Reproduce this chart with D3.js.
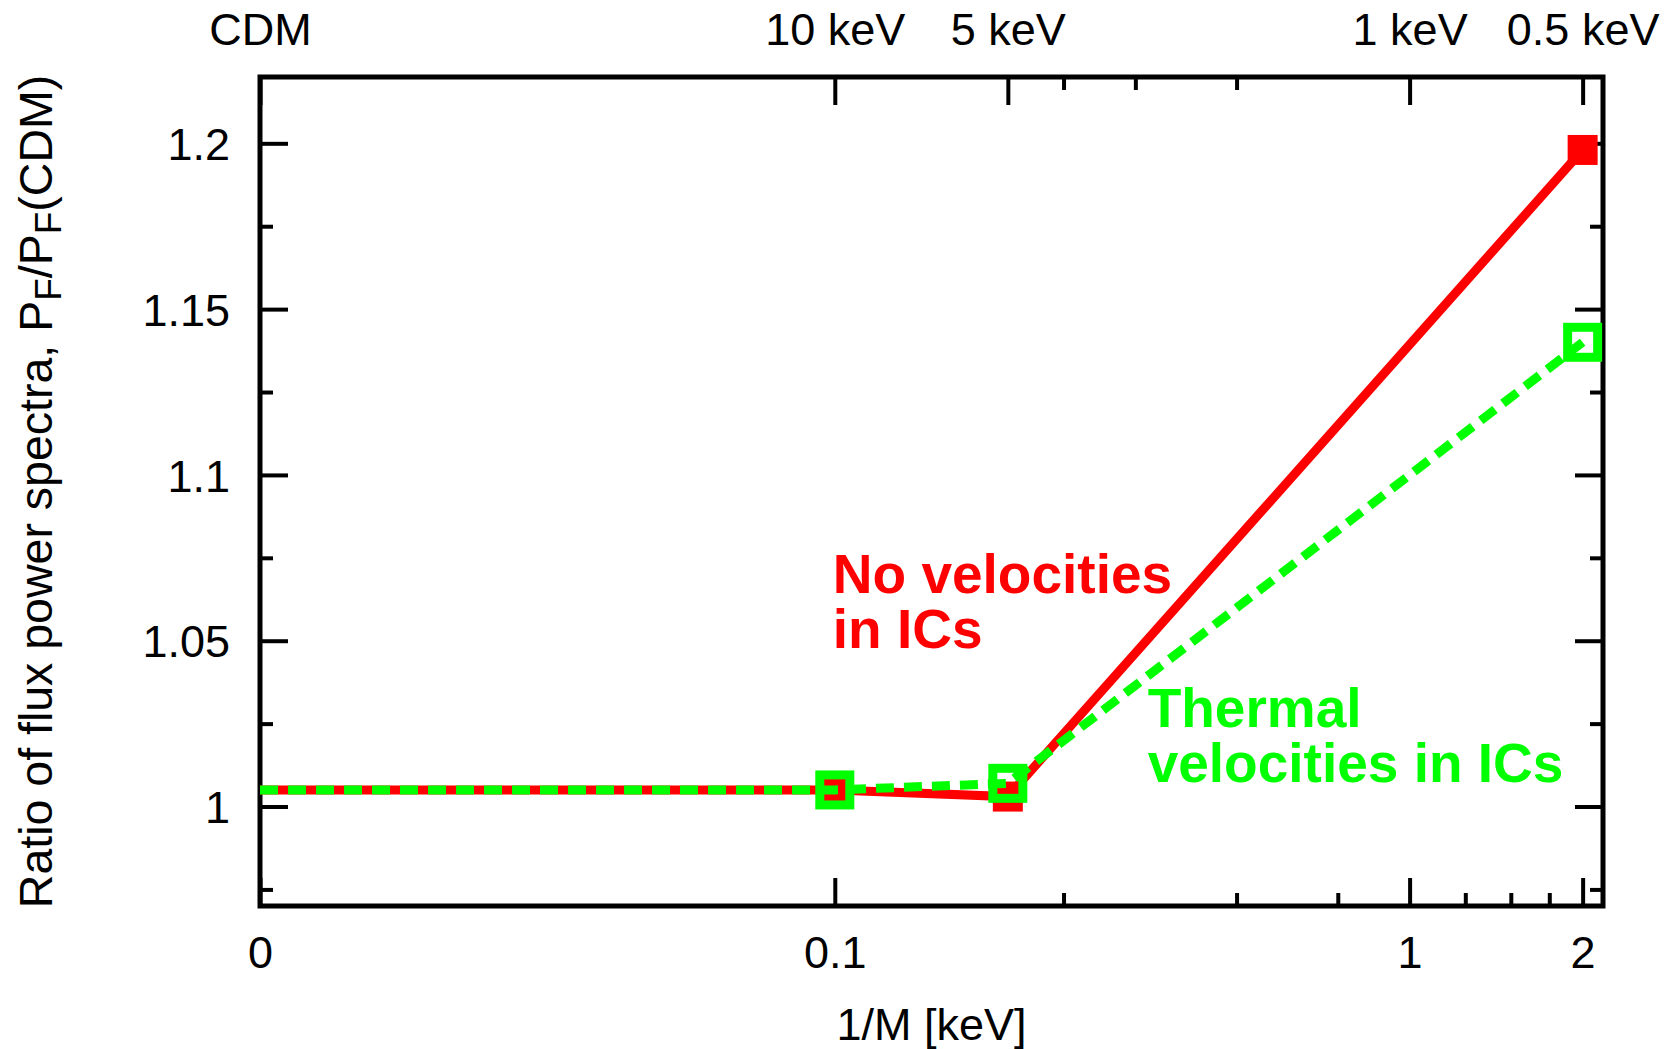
<!DOCTYPE html>
<html>
<head>
<meta charset="utf-8">
<script src="https://cdn.jsdelivr.net/npm/d3@7"></script>
<style>
  body { margin: 0; background: #fff; }
  svg text { font-family: "Liberation Sans", Arial, sans-serif; }
</style>
</head>
<body>
<div id="chart"></div>
<script>
// 1/M in keV; the CDM point sits at the left edge (plotted as 0.01 on the log axis)
var invMass = [0.01, 0.1, 0.2, 2];
var noVelocities = [1.005, 1.005, 1.003, 1.198];
var thermalVelocities = [1.005, 1.005, 1.007, 1.140];

var bottomMajor = [0.01, 0.1, 1, 2];
var bottomLabels = ["0", "0.1", "1", "2"];
var bottomMinor = [0.25, 0.5, 0.75, 1.25, 1.5, 1.75];
var topMajor = [0.01, 0.1, 0.2, 1, 2];
var topLabels = ["CDM", "10 keV", "5 keV", "1 keV", "0.5 keV"];
var topMinor = [0.25, 1 / 3, 0.5];
var yMajor = [1, 1.05, 1.1, 1.15, 1.2];
var yMinor = [0.975, 1.025, 1.075, 1.125, 1.175];

var margin = {top: 77, right: 65, bottom: 143, left: 260},
    width = 1668 - margin.left - margin.right,
    height = 1049 - margin.top - margin.bottom;

var svg = d3.select("#chart")
    .append("svg")
    .attr("width", 1668)
    .attr("height", 1049)
    .append("g")
    .attr("transform", "translate(" + margin.left + "," + margin.top + ")");

var x = d3.scaleLog().domain([0.01, 2.17]).range([0, width]);
var y = d3.scaleLinear().domain([0.97, 1.22]).range([height, 0]);

function styleAxis(g) {
    g.select(".domain").remove();
    g.selectAll(".tick line").attr("stroke", "#000").attr("stroke-width", 4);
    g.selectAll(".tick text").attr("fill", "#000").style("font-size", "45px");
}

// minor ticks
svg.append("g").attr("transform", "translate(0," + height + ")")
    .call(d3.axisBottom(x).tickValues(bottomMinor).tickSize(-13).tickFormat(""))
    .call(styleAxis);
svg.append("g")
    .call(d3.axisTop(x).tickValues(topMinor).tickSize(-13).tickFormat(""))
    .call(styleAxis);
svg.append("g")
    .call(d3.axisLeft(y).tickValues(yMinor).tickSize(-13).tickFormat(""))
    .call(styleAxis);
svg.append("g").attr("transform", "translate(" + width + ",0)")
    .call(d3.axisRight(y).tickValues(yMinor).tickSize(-13).tickFormat(""))
    .call(styleAxis);

// major ticks
svg.append("g").attr("transform", "translate(0," + height + ")")
    .call(d3.axisBottom(x).tickValues(bottomMajor).tickSize(-28).tickPadding(30)
        .tickFormat(function(d, i) { return bottomLabels[i]; }))
    .call(styleAxis);
svg.append("g")
    .call(d3.axisTop(x).tickValues(topMajor).tickSize(-28).tickPadding(32)
        .tickFormat(function(d, i) { return topLabels[i]; }))
    .call(styleAxis);
svg.append("g")
    .call(d3.axisLeft(y).tickValues(yMajor).tickSize(-28).tickPadding(30)
        .tickFormat(function(d) { return d3.format("")(d); }))
    .call(styleAxis)
    .selectAll(".tick text").attr("dy", "0.36em");
svg.append("g").attr("transform", "translate(" + width + ",0)")
    .call(d3.axisRight(y).tickValues(yMajor).tickSize(-28).tickFormat(""))
    .call(styleAxis);

svg.append("rect")
    .attr("width", width)
    .attr("height", height)
    .attr("fill", "none")
    .attr("stroke", "#000")
    .attr("stroke-width", 5);

var line = d3.line()
    .x(function(d) { return x(d[0]); })
    .y(function(d) { return y(d[1]); });

var redData = invMass.map(function(v, i) { return [v, noVelocities[i]]; });
var greenData = invMass.map(function(v, i) { return [v, thermalVelocities[i]]; });

// No velocities: solid red with filled squares
svg.append("path")
    .datum(redData)
    .attr("d", line)
    .attr("fill", "none")
    .attr("stroke", "#ff0000")
    .attr("stroke-width", 9);
svg.selectAll(".red-pt")
    .data(redData.slice(1))
    .enter()
    .append("rect")
    .attr("class", "red-pt")
    .attr("x", function(d) { return x(d[0]) - 15; })
    .attr("y", function(d) { return y(d[1]) - 15; })
    .attr("width", 30)
    .attr("height", 30)
    .attr("fill", "#ff0000");

// Thermal velocities: dashed green with open squares
svg.append("path")
    .datum(greenData)
    .attr("d", line)
    .attr("fill", "none")
    .attr("stroke", "#00ff00")
    .attr("stroke-width", 9)
    .attr("stroke-dasharray", "18,10");
svg.selectAll(".green-pt")
    .data(greenData.slice(1))
    .enter()
    .append("rect")
    .attr("class", "green-pt")
    .attr("x", function(d) { return x(d[0]) - 15; })
    .attr("y", function(d) { return y(d[1]) - 15; })
    .attr("width", 30)
    .attr("height", 30)
    .attr("fill", "none")
    .attr("stroke", "#00ff00")
    .attr("stroke-width", 9);

// annotations, one text per line
function note(lines, xv, yv, color) {
    lines.forEach(function(s, i) {
        svg.append("text")
            .attr("x", x(xv) - 2)
            .attr("y", y(yv) + i * 55)
            .attr("fill", color)
            .style("font-size", "55px")
            .style("font-weight", "bold")
            .text(s);
    });
}
note(["No velocities", "in ICs"], 0.1, 1.0644, "#ff0000");
note(["Thermal", "velocities in ICs"], 0.353, 1.024, "#00ff00");

// axis titles
svg.append("text")
    .attr("x", width / 2)
    .attr("y", height + 134)
    .attr("text-anchor", "middle")
    .style("font-size", "45px")
    .text("1/M [keV]");

var ylab = svg.append("text")
    .attr("transform", "translate(" + (-208) + "," + (height / 2) + ") rotate(-90)")
    .attr("text-anchor", "middle")
    .style("font-size", "46.5px");
ylab.append("tspan").text("Ratio of flux power spectra, P");
ylab.append("tspan").attr("dy", 9).style("font-size", "37px").text("F");
ylab.append("tspan").attr("dy", -9).text("/P");
ylab.append("tspan").attr("dy", 9).style("font-size", "37px").text("F");
ylab.append("tspan").attr("dy", -9).text("(CDM)");
</script>
</body>
</html>
